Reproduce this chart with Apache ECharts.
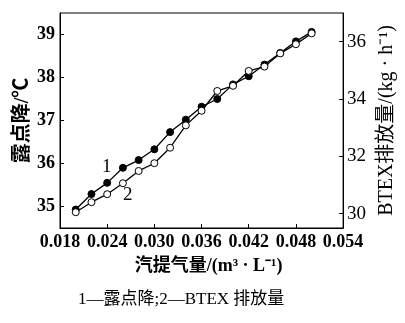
<!DOCTYPE html>
<html><head><meta charset="utf-8">
<script src="https://cdn.jsdelivr.net/npm/echarts@6/dist/echarts.min.js"></script>
<style>html,body{margin:0;padding:0;background:#fff}#c{width:405px;height:323px}</style>
</head><body><div id="c"></div>
<script>
var xValues = [0.020,0.022,0.024,0.026,0.028,0.030,0.032,0.034,0.036,0.038,0.040,0.042,0.044,0.046,0.048,0.050];
var dewPointDrop = [34.93,35.29,35.55,35.90,36.08,36.33,36.73,37.02,37.32,37.50,37.84,38.03,38.30,38.57,38.84,39.06];
var btexEmission = [30.05,30.40,30.68,31.06,31.49,31.76,32.30,33.08,33.59,34.28,34.46,34.98,35.13,35.59,35.91,36.29];
var xTicks = [0.018,0.024,0.030,0.036,0.042,0.048,0.054];
var leftTicks = [35,36,37,38,39];
var rightTicks = [30,32,34,36];

var serif = '"Liberation Serif","Noto Sans CJK SC",serif';
function pairs(ys){ return xValues.map(function(x,i){ return [x, ys[i]]; }); }

var chart = echarts.init(document.getElementById('c'), null, {renderer:'canvas'});
chart.setOption({
  animation:false,
  backgroundColor:'#fff',
  grid:{left:60, right:49, top:13, bottom:95, show:true, borderColor:'#000', borderWidth:1, backgroundColor:'transparent'},
  xAxis:{
    type:'value', min:0.018, max:0.054,
    name:'汽提气量/(m³ · L⁻¹)', nameLocation:'middle', nameGap:29,
    nameTextStyle:{fontFamily:serif, fontSize:18, fontWeight:'bold', color:'#000', padding:[0,0,0,14]},
    axisLine:{show:true, lineStyle:{color:'#000', width:1}},
    axisTick:{show:true, inside:true, length:4, customValues:xTicks, lineStyle:{color:'#000'}},
    axisLabel:{customValues:xTicks, fontFamily:serif, fontSize:18, fontWeight:'bold', color:'#000', margin:5,
      formatter:function(v){ return v.toFixed(3); }},
    splitLine:{show:false}
  },
  yAxis:[{
    type:'value', min:34.5, max:39.5, position:'left',
    name:'露点降/℃', nameLocation:'middle', nameGap:27, nameRotate:90, nameMoveOverlap:false,
    nameTextStyle:{fontFamily:serif, fontSize:20, fontWeight:'bold', color:'#000'},
    axisLine:{show:true, lineStyle:{color:'#000', width:1}},
    axisTick:{show:true, inside:true, length:4, customValues:leftTicks, lineStyle:{color:'#000'}},
    axisLabel:{customValues:leftTicks, fontFamily:serif, fontSize:18, fontWeight:'bold', color:'#000', margin:5},
    splitLine:{show:false}
  },{
    type:'value', min:29.5, max:37, position:'right',
    name:'BTEX排放量/(kg · h⁻¹)', nameLocation:'middle', nameGap:32, nameRotate:90,
    nameTextStyle:{fontFamily:serif, fontSize:20, color:'#000', padding:[0,0,10,0]},
    axisLine:{show:true, lineStyle:{color:'#000', width:1}},
    axisTick:{show:true, inside:true, length:4, customValues:rightTicks, lineStyle:{color:'#000'}},
    axisLabel:{customValues:rightTicks, fontFamily:serif, fontSize:19, color:'#000', margin:4},
    splitLine:{show:false}
  }],
  series:[{
    type:'line', yAxisIndex:0, data:pairs(dewPointDrop),
    symbol:'circle', symbolSize:7,
    lineStyle:{color:'#000', width:1.3},
    itemStyle:{color:'#000', borderColor:'#000', borderWidth:1}
  },{
    type:'line', yAxisIndex:1, data:pairs(btexEmission),
    symbol:'circle', symbolSize:7,
    lineStyle:{color:'#000', width:1.3},
    itemStyle:{color:'#fff', borderColor:'#000', borderWidth:1}
  }],
  graphic:[
    {type:'text', left:102, top:158, style:{text:'1', font:'19px '+serif, fill:'#000'}},
    {type:'text', left:123, top:186, style:{text:'2', font:'19px '+serif, fill:'#000'}},
    {type:'text', left:78, top:291, style:{text:'1—露点降;2—BTEX 排放量', font:'17px '+serif, fill:'#000'}}
  ]
});
</script></body></html>
